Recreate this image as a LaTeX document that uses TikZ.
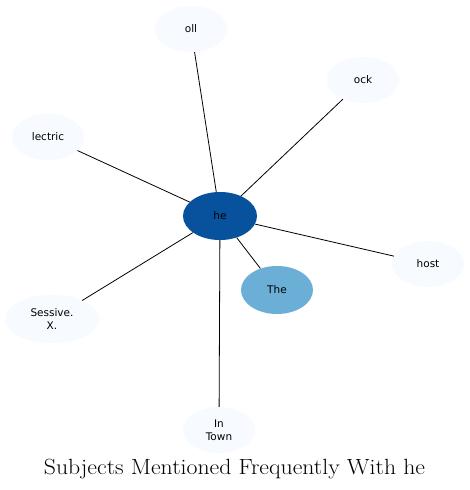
\documentclass[tikz,border=0pt]{standalone}
\usepackage{fontspec}
\newfontfamily\nodefont{DejaVu Sans}
\usetikzlibrary{shapes.geometric}
\definecolor{leaf}{HTML}{F7FBFF}
\definecolor{hub}{HTML}{08519C}
\definecolor{mid}{HTML}{6BAED6}
\begin{document}
\begin{tikzpicture}[x=1pt,y=-1pt,
  ent/.style={ellipse,draw=none,fill=leaf,minimum width=72pt,minimum height=46pt,inner sep=0pt,align=center,font=\nodefont\fontsize{10.5}{12.5}\selectfont},
  link/.style={draw=black,line width=0.8pt}]
\useasboundingbox[fill=white] (0,0) rectangle (470,490);
\node[ent,fill=hub,minimum width=74pt,minimum height=48pt] (he) at (220,216) {he};
\node[ent] (oll) at (191,29) {oll};
\node[ent] (ock) at (363,80) {ock};
\node[ent] (lectric) at (48,137) {lectric};
\node[ent] (host) at (428,264) {host};
\node[ent,fill=mid,minimum height=48pt] (the) at (277,290) {The};
\node[ent,minimum width=94pt,minimum height=48pt] (sess) at (52,319) {Sessive.\\X.};
\node[ent] (town) at (219,430) {In\\Town};
\foreach \t in {oll,ock,lectric,host,the,sess,town} \draw[link] (he) -- (\t);
\node[font=\fontsize{22}{24}\selectfont,inner sep=0pt] (title) at (234.5,469) {\scalebox{1.08}[1]{Subjects Mentioned Frequently With he}};
\end{tikzpicture}
\end{document}
